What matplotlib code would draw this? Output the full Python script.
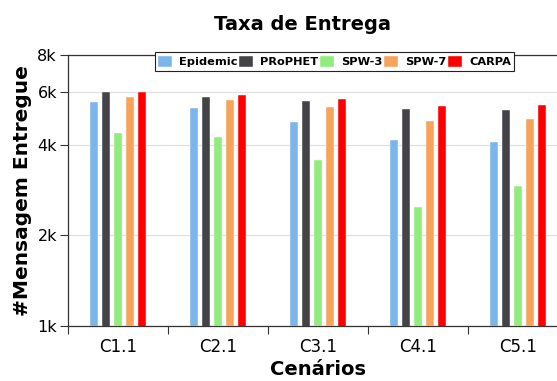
import numpy as np
import matplotlib
matplotlib.use("Agg")
import matplotlib.pyplot as plt
from matplotlib.ticker import FixedLocator, NullLocator

categories = ["C1.1", "C2.1", "C3.1", "C4.1", "C5.1"]
epidemic = [5590, 5320, 4770, 4180, 4110]
prophet = [6040, 5810, 5630, 5300, 5230]
spw3 = [4410, 4270, 3570, 2490, 2930]
spw7 = [5810, 5680, 5360, 4820, 4890]
carpa = [6040, 5890, 5720, 5400, 5440]

series = [
    ("Epidemic", epidemic, "#7cb5ec"),
    ("PRoPHET", prophet, "#434348"),
    ("SPW-3", spw3, "#90ed7d"),
    ("SPW-7", spw7, "#f7a35c"),
    ("CARPA", carpa, "#ff0000"),
]

fig = plt.figure(figsize=(5.57, 3.81), dpi=100)
ax = fig.add_axes([68 / 557, 1 - 325.7 / 381, 500 / 557, 270.7 / 381])

x = np.arange(len(categories))
pitch = 0.12
width = 0.085
for i, (name, vals, color) in enumerate(series):
    ax.bar(x + (i - 2) * pitch, vals, width, color=color, label=name,
           edgecolor="white", linewidth=0.3, zorder=3)

ax.set_yscale("log")
ax.set_ylim(1000, 8000)
yt = [1000, 2000, 4000, 6000, 8000]
ax.yaxis.set_major_locator(FixedLocator(yt))
ax.yaxis.set_minor_locator(NullLocator())
ax.set_yticklabels(["1k", "2k", "4k", "6k", "8k"], fontsize=11.5)
ax.grid(axis="y", color="#e0e0e0", linewidth=0.9, zorder=0)

ax.set_xlim(-0.5, len(categories) - 0.5)
ax.set_xticks(np.arange(len(categories) + 1) - 0.5)
ax.set_xticklabels([])
ax.set_xticks(x, minor=True)
ax.set_xticklabels(categories, minor=True, fontsize=12)
ax.tick_params(axis="x", which="major", length=6, width=0.8, color="#333333")
ax.tick_params(axis="x", which="minor", length=0, pad=9)
ax.tick_params(axis="y", length=6, width=0.8, color="#333333", pad=2)

for s in ["left", "bottom", "top"]:
    ax.spines[s].set_color("#333333")
    ax.spines[s].set_linewidth(0.9)
ax.spines["right"].set_visible(False)

ax.set_xlabel("Cenários", fontsize=14, fontweight="bold", labelpad=3)
ax.set_ylabel("#Mensagem Entregue", fontsize=14.5, fontweight="bold", labelpad=4)

fig.text(302 / 557, 1 - 25 / 381, "Taxa de Entrega", ha="center", va="center",
         fontsize=14, fontweight="bold")

leg = fig.legend(loc="center", bbox_to_anchor=(334.5 / 557, 1 - 61.5 / 381),
                 ncol=5, frameon=True, fancybox=False, framealpha=1,
                 edgecolor="#222222", prop={"size": 8.2, "weight": "bold"},
                 handlelength=1.2, handleheight=1.2, handletextpad=0.6,
                 columnspacing=0.2, borderpad=0.3, borderaxespad=0)
leg.get_frame().set_linewidth(0.8)

fig.savefig("out.png", dpi=100)
